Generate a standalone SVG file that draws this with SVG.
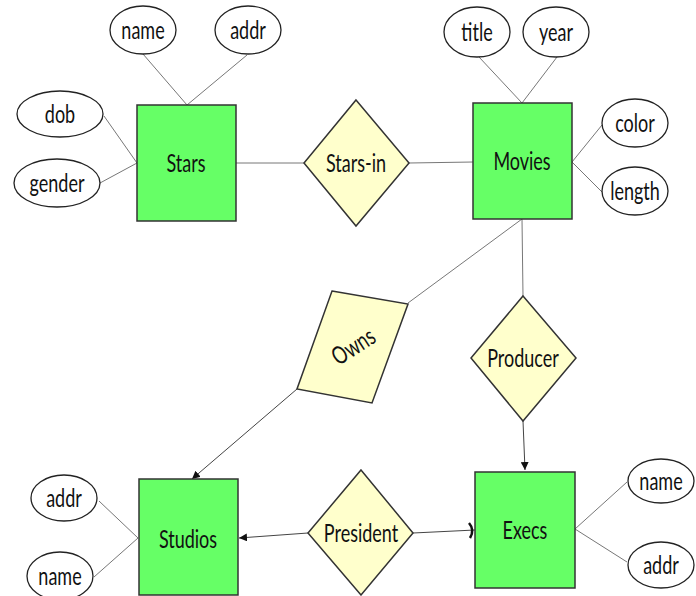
<svg xmlns="http://www.w3.org/2000/svg" width="696" height="596" viewBox="0 0 696 596">
<style>
.ent{fill:#66ff66;stroke:#333;stroke-width:1.5}
.rel{fill:#ffffcc;stroke:#333;stroke-width:1.5}
.att{fill:#fff;stroke:#222;stroke-width:1.3}
.t{font-family:Lato,"Open Sans",sans-serif;font-size:25px;fill:#111;text-anchor:middle;dominant-baseline:central}
.ln{stroke:#777;stroke-width:1;fill:none}
.ar{stroke:#444;stroke-width:1;fill:none}
</style>
<defs>
<marker id="arr" viewBox="0 0 10 10" refX="10" refY="5" markerWidth="8" markerHeight="8" orient="auto" markerUnits="userSpaceOnUse">
<path d="M0,0 L10,5 L0,10 z" fill="#111"/>
</marker>
</defs>
<rect width="696" height="596" fill="#fff"/>
<g id="connectors">
<line class="ln" x1="143" y1="54" x2="187" y2="105"/>
<line class="ln" x1="247" y1="55" x2="187" y2="105"/>
<line class="ln" x1="104" y1="116" x2="137" y2="163"/>
<line class="ln" x1="100" y1="183" x2="137" y2="163"/>
<line class="ln" x1="236" y1="163" x2="304" y2="163"/>
<line class="ln" x1="409" y1="163" x2="473" y2="162"/>
<line class="ln" x1="479" y1="57" x2="522" y2="103"/>
<line class="ln" x1="557" y1="57" x2="522" y2="103"/>
<line class="ln" x1="572" y1="162" x2="602" y2="125"/>
<line class="ln" x1="572" y1="162" x2="602" y2="192"/>
<line class="ln" x1="522" y1="219" x2="523" y2="296"/>
<line class="ln" x1="522" y1="219" x2="408" y2="303"/>
<line class="ar" x1="523" y1="421" x2="525" y2="470" marker-end="url(#arr)"/>
<line class="ar" x1="297" y1="389" x2="192" y2="479" marker-end="url(#arr)"/>
<line class="ar" x1="308" y1="533" x2="239" y2="538" marker-end="url(#arr)"/>
<line class="ar" x1="413" y1="533" x2="475" y2="530"/>
<path d="M469,523 Q475,530 470,538" stroke="#111" stroke-width="2.5" fill="none"/>
<line class="ln" x1="99" y1="501" x2="138" y2="538"/>
<line class="ln" x1="94" y1="577" x2="138" y2="538"/>
<line class="ln" x1="575" y1="529" x2="627" y2="482"/>
<line class="ln" x1="575" y1="529" x2="627" y2="562"/>
</g>
<g id="stars"><rect class="ent" x="137" y="105" width="99" height="116"/><text class="t" transform="translate(186,163) scale(0.72,1)">Stars</text></g>
<g id="movies"><rect class="ent" x="473" y="103" width="99" height="116"/><text class="t" transform="translate(522,161) scale(0.72,1)">Movies</text></g>
<g id="studios"><rect class="ent" x="139" y="479" width="99" height="116"/><text class="t" transform="translate(188,539) scale(0.72,1)">Studios</text></g>
<g id="execs"><rect class="ent" x="475" y="472" width="100" height="116"/><text class="t" transform="translate(525,530) scale(0.72,1)">Execs</text></g>
<g id="stars-in"><polygon class="rel" points="356,100 409,163 356,226 304,163"/><text class="t" transform="translate(356,163) scale(0.72,1)">Stars-in</text></g>
<g id="producer"><polygon class="rel" points="523,296 576,358 523,421 471,358"/><text class="t" transform="translate(523,358) scale(0.72,1)">Producer</text></g>
<g id="president"><polygon class="rel" points="361,470 413,533 361,595 308,533"/><text class="t" transform="translate(361,533) scale(0.72,1)">President</text></g>
<g id="owns"><polygon class="rel" points="332,291 408,304 372,403 297,389"/><text class="t" transform="translate(353,346) rotate(-33) scale(0.72,1)">Owns</text></g>
<g id="stars-name"><ellipse class="att" cx="143" cy="30" rx="33" ry="24"/><text class="t" transform="translate(143,30) scale(0.72,1)">name</text></g>
<g id="stars-addr"><ellipse class="att" cx="248" cy="30" rx="33" ry="24"/><text class="t" transform="translate(248,30) scale(0.72,1)">addr</text></g>
<g id="stars-dob"><ellipse class="att" cx="60" cy="114" rx="43" ry="23"/><text class="t" transform="translate(60,114) scale(0.72,1)">dob</text></g>
<g id="stars-gender"><ellipse class="att" cx="57" cy="183" rx="43" ry="24"/><text class="t" transform="translate(57,183) scale(0.72,1)">gender</text></g>
<g id="movies-title"><ellipse class="att" cx="477" cy="32" rx="33" ry="25"/><text class="t" transform="translate(477,32) scale(0.72,1)">title</text></g>
<g id="movies-year"><ellipse class="att" cx="556" cy="32" rx="33" ry="25"/><text class="t" transform="translate(556,32) scale(0.72,1)">year</text></g>
<g id="movies-color"><ellipse class="att" cx="635" cy="123" rx="33" ry="24"/><text class="t" transform="translate(635,123) scale(0.72,1)">color</text></g>
<g id="movies-length"><ellipse class="att" cx="635" cy="191" rx="33" ry="24"/><text class="t" transform="translate(635,191) scale(0.72,1)">length</text></g>
<g id="studios-addr"><ellipse class="att" cx="64" cy="498" rx="33" ry="23"/><text class="t" transform="translate(64,498) scale(0.72,1)">addr</text></g>
<g id="studios-name"><ellipse class="att" cx="60" cy="576" rx="33" ry="24"/><text class="t" transform="translate(60,576) scale(0.72,1)">name</text></g>
<g id="execs-name"><ellipse class="att" cx="661" cy="481" rx="33" ry="22"/><text class="t" transform="translate(661,481) scale(0.72,1)">name</text></g>
<g id="execs-addr"><ellipse class="att" cx="661" cy="565" rx="33" ry="23"/><text class="t" transform="translate(661,565) scale(0.72,1)">addr</text></g>
</svg>
